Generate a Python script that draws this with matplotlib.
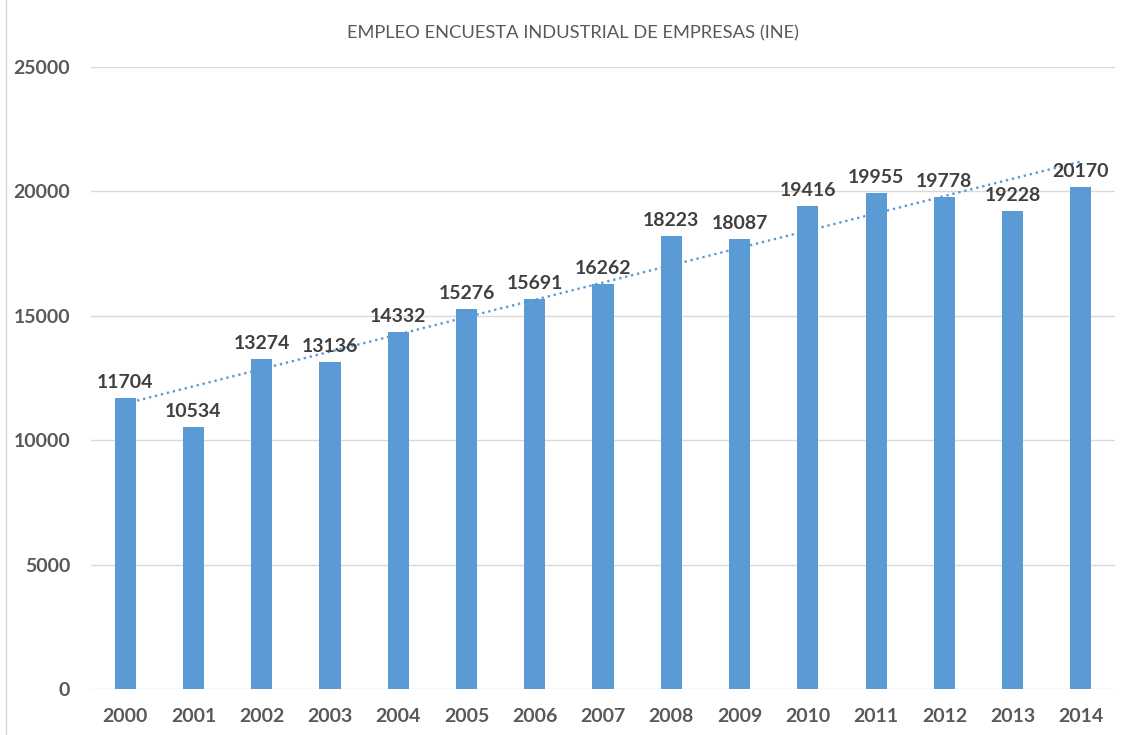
import numpy as np
import matplotlib
matplotlib.use("Agg")
import matplotlib.pyplot as plt
from matplotlib.lines import Line2D

years = ["2000", "2001", "2002", "2003", "2004", "2005", "2006", "2007",
         "2008", "2009", "2010", "2011", "2012", "2013", "2014"]
empleo = [11704, 10534, 13274, 13136, 14332, 15276, 15691, 16262,
          18223, 18087, 19416, 19955, 19778, 19228, 20170]
yticks = [0, 5000, 10000, 15000, 20000, 25000]

plt.rcParams["font.family"] = ["Lato", "DejaVu Sans"]
BLUE = "#5B9BD5"
GRID = "#D9D9D9"

fig = plt.figure(figsize=(11.32, 7.35), dpi=100)
ax = fig.add_axes([0.0804, 0.0626, 0.9046, 0.8462])

x = np.arange(len(years))
ax.bar(x, empleo, width=0.31, color=BLUE, zorder=2)

# linear trendline, as Excel does it
m, b = np.polyfit(x, empleo, 1)
ax.plot(x, m * x + b, ls=(0, (1, 1.6)), color=BLUE, lw=1.7, zorder=3)

for xi, v in zip(x, empleo):
    ax.annotate(f"{v}", (xi, v), xytext=(0, 5), textcoords="offset points",
                ha="center", va="bottom", fontsize=14, fontweight="bold",
                color="#404040", zorder=4)

ax.set_xlim(-0.5, len(years) - 0.5)
ax.set_ylim(0, 25000)
ax.set_yticks(yticks)
ax.set_yticklabels([str(t) for t in yticks])
ax.set_xticks(x)
ax.set_xticklabels(years)
ax.yaxis.grid(True, color=GRID, lw=1, zorder=0)
for s in ax.spines.values():
    s.set_visible(False)
ax.tick_params(length=0)
ax.tick_params(axis="y", pad=15, labelsize=14, labelcolor="#595959")
ax.tick_params(axis="x", pad=14, labelsize=14, labelcolor="#595959")
for lab in ax.get_xticklabels() + ax.get_yticklabels():
    lab.set_fontweight("bold")

fig.text(0.506, 0.955, "EMPLEO ENCUESTA INDUSTRIAL DE EMPRESAS (INE)",
         ha="center", va="center", fontsize=13.2, color="#595959")
fig.add_artist(Line2D([6 / 1132, 6 / 1132], [0, 1], color=GRID, lw=1))

fig.savefig("out.png", dpi=100)
